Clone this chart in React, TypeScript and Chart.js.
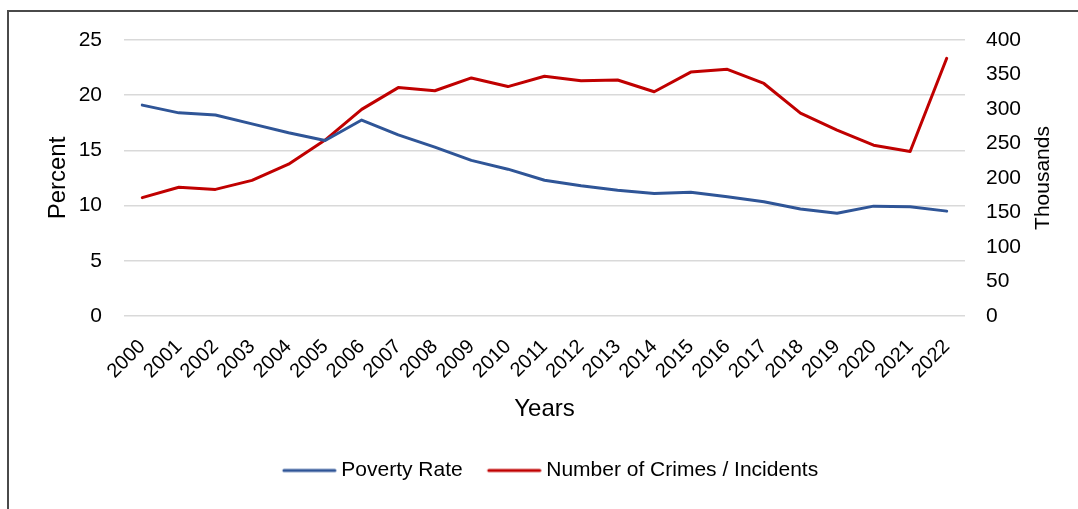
import React, { useEffect, useRef } from 'react';
import { Chart, registerables } from 'chart.js';

Chart.register(...registerables);

const years = ['2000', '2001', '2002', '2003', '2004', '2005', '2006', '2007', '2008', '2009', '2010', '2011', '2012', '2013', '2014', '2015', '2016', '2017', '2018', '2019', '2020', '2021', '2022'];
const povertyRate = [19.1, 18.4, 18.2, 17.4, 16.6, 15.9, 17.75, 16.4, 15.3, 14.1, 13.3, 12.3, 11.8, 11.4, 11.1, 11.2, 10.8, 10.35, 9.7, 9.3, 9.95, 9.9, 9.5];
const crimesThousands = [171.5, 186.5, 183.5, 196.5, 220, 255, 299.5, 331, 326.5, 345, 332.5, 347.5, 341, 342, 325, 353.5, 357.5, 337, 294, 269.5, 247.5, 238.5, 373.5];
const seriesLabels = ['Poverty Rate', 'Number of Crimes / Incidents'];
const leftTitle = 'Percent';
const rightTitle = 'Thousands';
const xTitle = 'Years';

const BLUE = '#2F5597';
const RED = '#C00000';
const FONT = '"Liberation Sans", Arial, sans-serif';
const TEXT = '#000000';

function makeMarker(color: string): HTMLCanvasElement {
  const c = document.createElement('canvas');
  c.width = 60;
  c.height = 6;
  const ctx = c.getContext('2d')!;
  ctx.strokeStyle = color;
  ctx.lineWidth = 3;
  ctx.lineCap = 'round';
  ctx.beginPath();
  ctx.moveTo(7, 3);
  ctx.lineTo(58, 3);
  ctx.stroke();
  return c;
}

const rightTitlePlugin = {
  id: 'rightTitle',
  afterDraw(chart: any) {
    const s = chart.scales.y1;
    const ctx = chart.ctx;
    ctx.save();
    ctx.translate(s.right - 35, (s.top + s.bottom) / 2);
    ctx.rotate(-Math.PI / 2);
    ctx.fillStyle = TEXT;
    ctx.font = `21px ${FONT}`;
    ctx.textAlign = 'center';
    ctx.textBaseline = 'middle';
    ctx.fillText(rightTitle, 0, 0);
    ctx.restore();
  },
};

export default function App() {
  const ref = useRef<HTMLCanvasElement | null>(null);

  useEffect(() => {
    if (!ref.current) return;
    const markers = [makeMarker(BLUE), makeMarker(RED)];
    const tickFont = { family: FONT, size: 21 };
    const chart = new Chart(ref.current, {
      type: 'line',
      data: {
        labels: years,
        datasets: [
          {
            label: seriesLabels[0],
            data: povertyRate,
            yAxisID: 'y',
            borderColor: BLUE,
            backgroundColor: BLUE,
            borderWidth: 3,
            pointRadius: 0,
            tension: 0,
            borderCapStyle: 'round',
            borderJoinStyle: 'round',
          },
          {
            label: seriesLabels[1],
            data: crimesThousands,
            yAxisID: 'y1',
            borderColor: RED,
            backgroundColor: RED,
            borderWidth: 3,
            pointRadius: 0,
            tension: 0,
            borderCapStyle: 'round',
            borderJoinStyle: 'round',
          },
        ],
      },
      options: {
        responsive: false,
        animation: false,
        events: [],
        layout: { padding: { left: 23, right: 0, top: 40, bottom: 18 } },
        plugins: {
          tooltip: { enabled: false },
          legend: {
            position: 'bottom',
            labels: {
              usePointStyle: true,
              pointStyleWidth: 48,
              padding: 25,
              color: TEXT,
              font: { family: FONT, size: 21 },
              generateLabels: (c: any) =>
                c.data.datasets.map((ds: any, i: number) => ({
                  text: ds.label,
                  fillStyle: ds.borderColor,
                  strokeStyle: ds.borderColor,
                  lineWidth: 0,
                  pointStyle: markers[i],
                  hidden: false,
                  datasetIndex: i,
                  fontColor: TEXT,
                })),
            },
          },
        },
        scales: {
          x: {
            offset: true,
            grid: { display: false, drawTicks: false, offset: true },
            border: { display: false },
            ticks: { autoSkip: false, minRotation: 45, maxRotation: 45, padding: 19, color: TEXT, font: { family: FONT, size: 20 } },
            title: { display: true, text: xTitle, color: TEXT, font: { family: FONT, size: 24 }, padding: { top: 0, bottom: 11 } },
            afterFit: (s: any) => { s.height = 119; },
          },
          y: {
            position: 'left',
            min: 0,
            max: 25,
            ticks: { stepSize: 5, padding: 22, color: TEXT, font: tickFont },
            grid: { color: '#d9d9d9', lineWidth: 1.5, drawTicks: false },
            border: { display: false },
            title: { display: true, text: leftTitle, color: TEXT, font: { family: FONT, size: 24 }, padding: { top: 20.5, bottom: 0 } },
            afterFit: (s: any) => { s.width = 101; },
          },
          y1: {
            position: 'right',
            min: 0,
            max: 400,
            ticks: { stepSize: 50, padding: 21, color: TEXT, font: tickFont },
            grid: { display: false, drawTicks: false },
            border: { display: false },
            title: { display: false, text: rightTitle },
            afterFit: (s: any) => { s.width = 113; },
          },
        },
      },
      plugins: [rightTitlePlugin],
    } as any);
    return () => chart.destroy();
  }, []);

  return (
    <div style={{ position: 'fixed', left: 0, top: 0, width: 1078, height: 509, overflow: 'hidden', background: '#ffffff' }}>
      <div style={{ position: 'absolute', left: 7, top: 10, width: 1200, height: 700, border: '2px solid #4a4a4a' }} />
      <canvas ref={ref} width={1078} height={509} style={{ position: 'absolute', left: 0, top: 0, display: 'block' }} />
    </div>
  );
}
